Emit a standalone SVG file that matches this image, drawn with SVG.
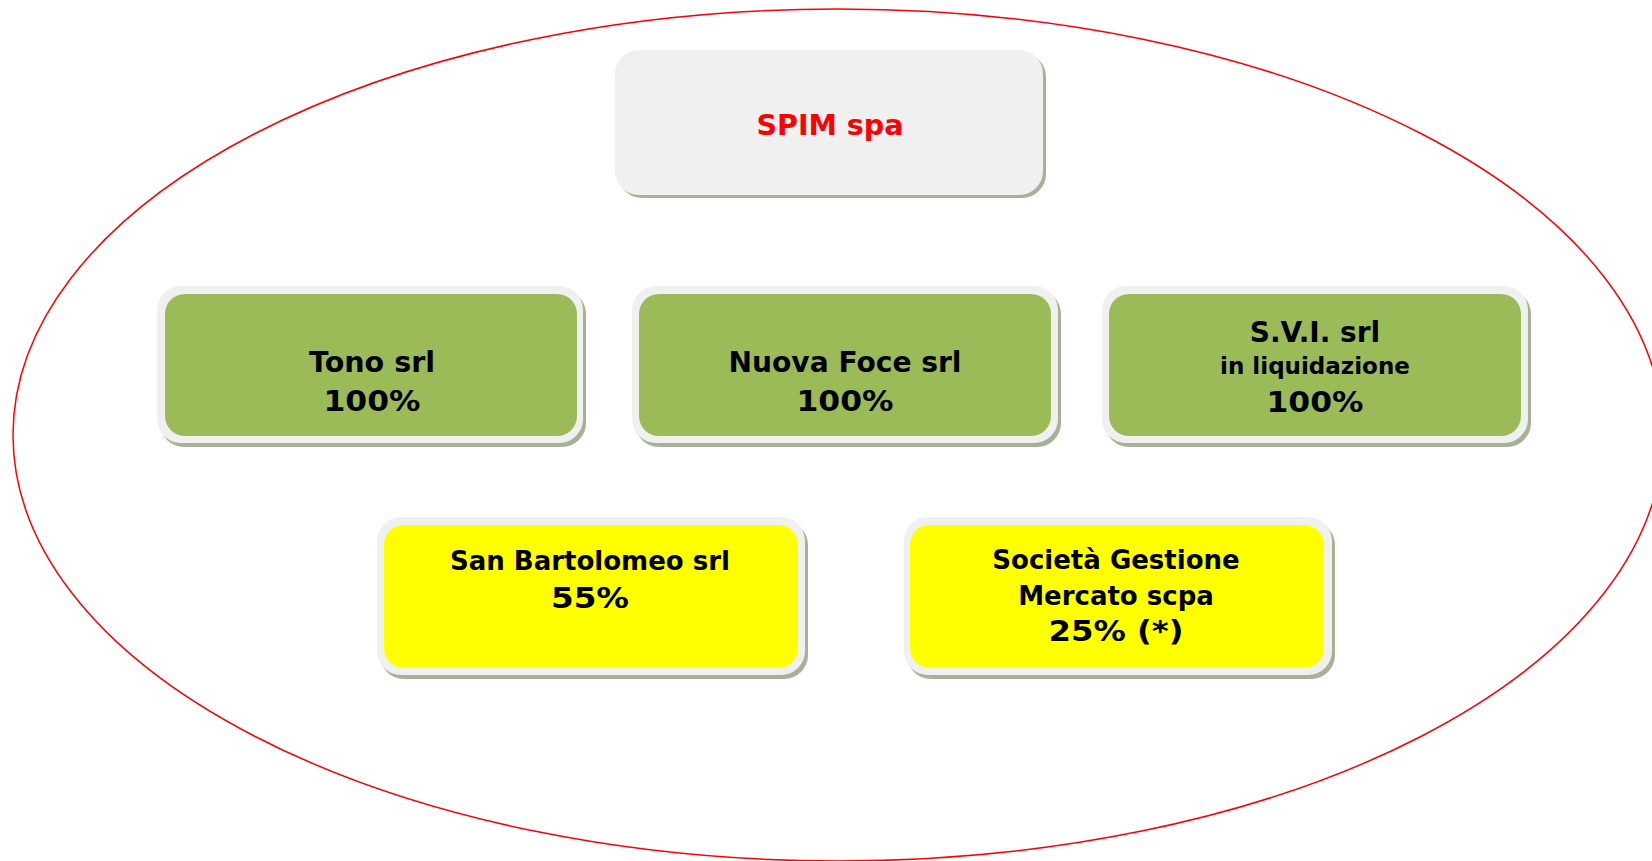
<svg xmlns="http://www.w3.org/2000/svg" width="1652" height="861" viewBox="0 0 1652 861">
<defs>
<style>
.sh{fill:#a7b197}
.face{fill:#f0f0f0}
.green{fill:#9bbb59}
.yellow{fill:#ffff00}
.t{font-family:"DejaVu Sans",Verdana,sans-serif;font-weight:bold;fill:#000;text-anchor:middle}
</style>
</defs>
<rect width="1652" height="861" fill="#fff"/>
<ellipse cx="838" cy="435" rx="825" ry="426" fill="none" stroke="#ff0000" stroke-width="1.5"/>
<g id="connectors"></g>
<g id="spim">
<rect class="sh" x="618" y="53" width="428" height="145" rx="24"/>
<rect class="face" x="615" y="50" width="428" height="145" rx="24"/>
<text class="t" x="830" y="135" font-size="28" style="fill:#ff0000" textLength="147" lengthAdjust="spacingAndGlyphs">SPIM spa</text>
</g>
<g id="tono">
<rect class="sh" x="160" y="290" width="426" height="157" rx="24"/>
<rect class="face" x="157" y="286" width="426" height="157" rx="24"/>
<rect class="green" x="165" y="294" width="412" height="142" rx="20"/>
<text class="t" x="372" y="372" font-size="28" textLength="126" lengthAdjust="spacingAndGlyphs">Tono srl</text>
<text class="t" x="372" y="411" font-size="28" textLength="97" lengthAdjust="spacingAndGlyphs">100%</text>
</g>
<g id="nuovafoce">
<rect class="sh" x="635" y="290" width="426" height="157" rx="24"/>
<rect class="face" x="632" y="286" width="426" height="157" rx="24"/>
<rect class="green" x="639" y="294" width="412" height="142" rx="20"/>
<text class="t" x="845" y="372" font-size="28" textLength="233" lengthAdjust="spacingAndGlyphs">Nuova Foce srl</text>
<text class="t" x="845" y="411" font-size="28" textLength="97" lengthAdjust="spacingAndGlyphs">100%</text>
</g>
<g id="svi">
<rect class="sh" x="1105" y="290" width="426" height="157" rx="24"/>
<rect class="face" x="1102" y="286" width="426" height="157" rx="24"/>
<rect class="green" x="1109" y="294" width="412" height="142" rx="20"/>
<text class="t" x="1315" y="342" font-size="28">S.V.I. srl</text>
<text class="t" x="1315" y="374" font-size="23">in liquidazione</text>
<text class="t" x="1315" y="412" font-size="28" textLength="97" lengthAdjust="spacingAndGlyphs">100%</text>
</g>
<g id="sanbartolomeo">
<rect class="sh" x="380" y="521" width="428" height="158" rx="24"/>
<rect class="face" x="377" y="517" width="428" height="158" rx="24"/>
<rect class="yellow" x="384" y="525" width="414" height="143" rx="20"/>
<text class="t" x="590" y="570" font-size="26">San Bartolomeo srl</text>
<text class="t" x="590" y="608" font-size="28" textLength="78" lengthAdjust="spacingAndGlyphs">55%</text>
</g>
<g id="sgm">
<rect class="sh" x="907" y="521" width="428" height="158" rx="24"/>
<rect class="face" x="904" y="517" width="428" height="158" rx="24"/>
<rect class="yellow" x="910" y="525" width="414" height="143" rx="20"/>
<text class="t" x="1116" y="569" font-size="26">Società Gestione</text>
<text class="t" x="1116" y="605" font-size="26">Mercato scpa</text>
<text class="t" x="1116" y="641" font-size="28" textLength="135" lengthAdjust="spacingAndGlyphs">25% (*)</text>
</g>
</svg>
